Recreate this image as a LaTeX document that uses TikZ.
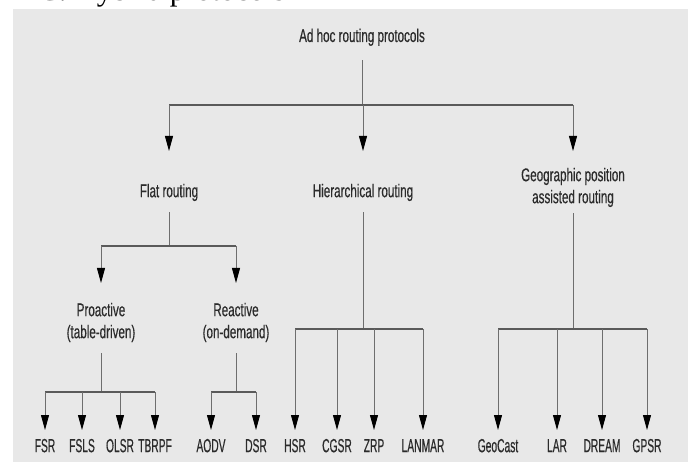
\documentclass[tikz,border=0pt]{standalone}
\usepackage{fontspec}
\setmainfont{Liberation Serif}
\newfontfamily\condf[FakeStretch=0.63,FakeBold=0.4]{Liberation Sans}
\newfontfamily\leaff[FakeStretch=0.54,FakeBold=0.4]{Liberation Sans}
\usetikzlibrary{arrows.meta}
\definecolor{panel}{HTML}{E8E8E8}
\definecolor{txt}{HTML}{2B2B2B}
\definecolor{barc}{HTML}{5A5A5A}
\definecolor{linec}{HTML}{6E6E6E}
\begin{document}
\begin{tikzpicture}[x=1pt,y=-1pt,
  lbl/.style={font=\condf\fontsize{18.5}{22}\selectfont, text=txt, inner sep=0pt, anchor=north},
  leaf/.style={font=\leaff\fontsize{19}{22}\selectfont, text=txt, inner sep=0pt, anchor=north},
  hbar/.style={draw=barc, line width=2.4pt, line cap=butt},
  vline/.style={draw=linec, line width=0.9pt},
  arr/.style={draw=linec, line width=0.9pt, -{Triangle[length=15pt,width=8pt,color=black]}},
]
\useasboundingbox (0,0) rectangle (688,462);
\clip (0,0) rectangle (688,462);
\fill[white] (0,0) rectangle (688,462);
\node[anchor=base west, inner sep=0pt, font=\fontsize{31}{31}\selectfont] (hdr) at (38,1) {C. Hybrid protocols};
\fill[panel] (13,9) rectangle (688,462);

% levels
\coordinate (b1) at (0,105);
\coordinate (b2) at (0,246);
\coordinate (b3) at (0,392);
\coordinate (b4) at (0,329);

\node[lbl, anchor=base] (root) at (362,42) {\rule[-18pt]{0pt}{1pt}Ad hoc routing protocols};
\node[lbl] (flat) at (169,151) {\rule[-15pt]{0pt}{61pt}Flat routing};
\node[lbl] (hier) at (363,151) {\rule[-15pt]{0pt}{61pt}Hierarchical routing};
\node[lbl, align=center] (geo) at (573,151) {\rule{0pt}{30pt}Geographic position\\assisted routing\rule[-10pt]{0pt}{10pt}};
\node[lbl, align=center] (pro) at (101,283) {\rule{0pt}{33pt}Proactive\\(table-driven)\rule[-15pt]{0pt}{15pt}};
\node[lbl, align=center] (rea) at (236,283) {\rule{0pt}{33pt}Reactive\\(on-demand)\rule[-15pt]{0pt}{15pt}};

\foreach \nm/\xx/\tx in {fsr/45/FSR, fsls/82/FSLS, olsr/120/OLSR, tbrpf/155/TBRPF, aodv/211/AODV, dsr/256/DSR, hsr/295/HSR, cgsr/337/CGSR, zrp/374/ZRP, lanmar/423/LANMAR, geocast/498/GeoCast, lar/557/LAR, dream/602/DREAM, gpsr/647/GPSR}
  \node[leaf] (\nm) at (\xx,430) {\rule{0pt}{22pt}\tx};

% root
\draw[vline] (root.south) -- (root.south |- b1);
\draw[hbar] (flat.north |- b1) -- (geo.north |- b1);
\foreach \n in {flat,hier,geo} \draw[arr] (\n.north |- b1) -- (\n.north);

% flat
\draw[vline] (flat.south) -- (flat.south |- b2);
\draw[hbar] (pro.north |- b2) -- (rea.north |- b2);
\foreach \n in {pro,rea} \draw[arr] (\n.north |- b2) -- (\n.north);

% proactive
\draw[vline] (pro.south) -- (pro.south |- b3);
\draw[hbar] (fsr.north |- b3) -- (tbrpf.north |- b3);
\foreach \n in {fsr,fsls,olsr,tbrpf} \draw[arr] (\n.north |- b3) -- (\n.north);

% reactive
\draw[vline] (rea.south) -- (rea.south |- b3);
\draw[hbar] (aodv.north |- b3) -- (dsr.north |- b3);
\foreach \n in {aodv,dsr} \draw[arr] (\n.north |- b3) -- (\n.north);

% hierarchical
\draw[vline] (hier.south) -- (hier.south |- b4);
\draw[hbar] (hsr.north |- b4) -- (lanmar.north |- b4);
\foreach \n in {hsr,cgsr,zrp,lanmar} \draw[arr] (\n.north |- b4) -- (\n.north);

% geographic
\draw[vline] (geo.south) -- (geo.south |- b4);
\draw[hbar] (geocast.north |- b4) -- (gpsr.north |- b4);
\foreach \n in {geocast,lar,dream,gpsr} \draw[arr] (\n.north |- b4) -- (\n.north);
\end{tikzpicture}
\end{document}
